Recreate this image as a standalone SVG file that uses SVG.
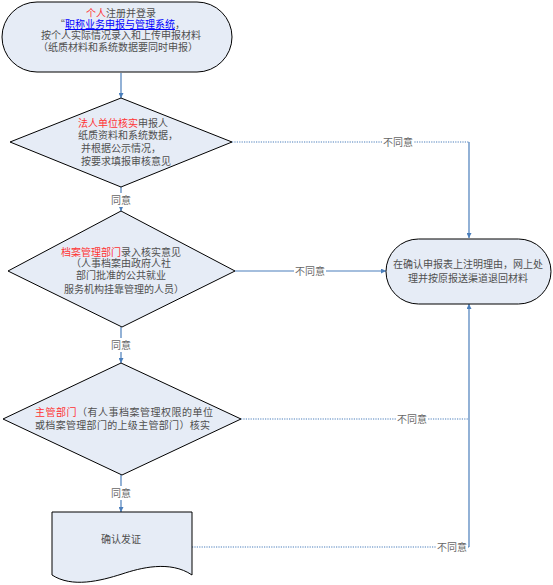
<svg xmlns="http://www.w3.org/2000/svg" width="553" height="585" viewBox="0 0 553 585">
<style>
text{font-family:"Noto Sans CJK SC","Noto Sans",sans-serif;font-size:10px;fill:#505050}
.c{text-anchor:middle}
.r{fill:#ff3333}
.lnk{fill:#0000ff;text-decoration:underline}
.node{fill:#e6ecf6;stroke:#000;stroke-width:1}
.ln{fill:none;stroke:#4a7ebb;stroke-width:1.2}
.dot{fill:none;stroke:#4a7ebb;stroke-width:1.2;stroke-dasharray:1.2 1.2}
.lbl{fill:#666}
</style>
<defs>
<marker id="ah" viewBox="0 0 10 10" refX="10" refY="5" markerWidth="5" markerHeight="5" orient="auto" markerUnits="userSpaceOnUse">
<path d="M0,0 L10,5 L0,10 Z" fill="#4a7ebb"/>
</marker>
</defs>

<g id="connectors">
<line class="ln" x1="121" y1="73" x2="121" y2="98" marker-end="url(#ah)"/>
<line class="ln" x1="121" y1="187" x2="121" y2="211" marker-end="url(#ah)"/>
<line class="ln" x1="121" y1="327" x2="121" y2="363" marker-end="url(#ah)"/>
<line class="ln" x1="121" y1="475" x2="121" y2="512" marker-end="url(#ah)"/>
<line class="dot" x1="232" y1="142" x2="469" y2="142"/>
<line class="ln" x1="469" y1="142" x2="469" y2="238" marker-end="url(#ah)"/>
<line class="ln" x1="235" y1="271" x2="386" y2="271" marker-end="url(#ah)"/>
<line class="dot" x1="241" y1="419" x2="469" y2="419"/>
<line class="dot" x1="192" y1="547" x2="469" y2="547"/>
<line class="ln" x1="469" y1="547" x2="469" y2="304" marker-end="url(#ah)"/>
<rect x="108" y="193" width="26" height="14" fill="#fff"/>
<text class="c lbl" x="121" y="204">同意</text>
<rect x="108" y="338" width="26" height="14" fill="#fff"/>
<text class="c lbl" x="121" y="349">同意</text>
<rect x="108" y="486" width="26" height="14" fill="#fff"/>
<text class="c lbl" x="121" y="497">同意</text>
<rect x="382" y="135" width="32" height="14" fill="#fff"/>
<text class="c lbl" x="398" y="146">不同意</text>
<rect x="294" y="264" width="32" height="14" fill="#fff"/>
<text class="c lbl" x="310" y="275">不同意</text>
<rect x="396" y="412" width="32" height="14" fill="#fff"/>
<text class="c lbl" x="412" y="423">不同意</text>
<rect x="436" y="540" width="32" height="14" fill="#fff"/>
<text class="c lbl" x="452" y="551">不同意</text>
</g>

<g id="start">
<rect class="node" x="2" y="2" width="230" height="70" rx="35" ry="35"/>
<text class="c" x="121" y="17"><tspan class="r">个人</tspan>注册并登录</text>
<text x="55" y="28">“</text>
<text x="65" y="28"><tspan class="lnk">职称业务申报与管理系统</tspan>，</text>
<text class="c" x="121" y="39">按个人实际情况录入和上传申报材料</text>
<text class="c" x="118" y="51">（纸质材料和系统数据要同时申报）</text>
</g>

<g id="d1">
<polygon class="node" points="121,98 232,142 121,187 10,142"/>
<text x="78" y="127"><tspan class="r">法人单位核实</tspan>申报人</text>
<text x="78" y="139">纸质资料和系统数据，</text>
<text x="81" y="152">并根据公示情况，</text>
<text x="81" y="165">按要求填报审核意见</text>
</g>

<g id="d2">
<polygon class="node" points="121,211 235,271 122,327 8,271"/>
<text class="c" x="121" y="256"><tspan class="r">档案管理部门</tspan>录入核实意见</text>
<text class="c" x="121" y="267">（人事档案由政府人社</text>
<text class="c" x="121" y="279">部门批准的公共就业</text>
<text class="c" x="124" y="293">服务机构挂靠管理的人员）</text>
</g>

<g id="d3">
<polygon class="node" points="121,363 241,419 122,475 3,419"/>
<text x="35" y="416" textLength="178"><tspan class="r">主管部门</tspan>（有人事档案管理权限的单位</text>
<text x="35" y="429" textLength="175">或档案管理部门的上级主管部门）核实</text>
</g>

<g id="doc">
<path class="node" d="M52,512 H192 V575 C170,560 140,568 122,574 C100,581 72,588 52,575 Z"/>
<text class="c" x="121" y="543">确认发证</text>
</g>

<g id="reject">
<rect class="node" x="386" y="239" width="165" height="65" rx="32.5" ry="32.5"/>
<text class="c" x="468" y="268">在确认申报表上注明理由，网上处</text>
<text class="c" x="468" y="282">理并按原报送渠道退回材料</text>
</g>
</svg>
